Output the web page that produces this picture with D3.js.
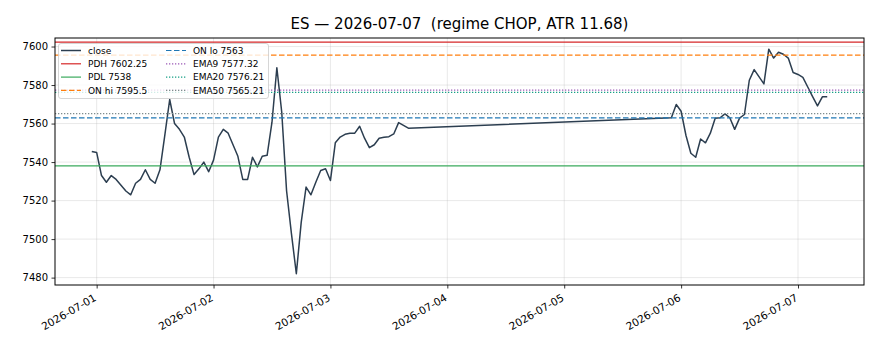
<!DOCTYPE html>
<html>
<head>
<meta charset="utf-8">
<script src="https://cdn.jsdelivr.net/npm/d3@7"></script>
<style>
  body { margin: 0; background: #fff; }
  svg { display: block; font-family: "DejaVu Sans", sans-serif; }
</style>
</head>
<body>
<div id="chart"></div>
<script>
// hourly closes
var times = [
  "2026-06-30T23:00",
  "2026-07-01T00:00","2026-07-01T01:00","2026-07-01T02:00","2026-07-01T03:00","2026-07-01T04:00","2026-07-01T05:00",
  "2026-07-01T06:00","2026-07-01T07:00","2026-07-01T08:00","2026-07-01T09:00","2026-07-01T10:00","2026-07-01T11:00",
  "2026-07-01T12:00","2026-07-01T13:00","2026-07-01T14:00","2026-07-01T15:00","2026-07-01T16:00","2026-07-01T17:00",
  "2026-07-01T18:00","2026-07-01T19:00","2026-07-01T20:00","2026-07-01T21:00","2026-07-01T22:00","2026-07-01T23:00",
  "2026-07-02T00:00","2026-07-02T01:00","2026-07-02T02:00","2026-07-02T03:00","2026-07-02T04:00","2026-07-02T05:00",
  "2026-07-02T06:00","2026-07-02T07:00","2026-07-02T08:00","2026-07-02T09:00","2026-07-02T10:00","2026-07-02T11:00",
  "2026-07-02T12:00","2026-07-02T13:00","2026-07-02T14:00","2026-07-02T15:00","2026-07-02T16:00","2026-07-02T17:00",
  "2026-07-02T18:00","2026-07-02T19:00","2026-07-02T20:00","2026-07-02T21:00","2026-07-02T22:00","2026-07-02T23:00",
  "2026-07-03T00:00","2026-07-03T01:00","2026-07-03T02:00","2026-07-03T03:00","2026-07-03T04:00","2026-07-03T05:00",
  "2026-07-03T06:00","2026-07-03T07:00","2026-07-03T08:00","2026-07-03T09:00","2026-07-03T10:00","2026-07-03T11:00",
  "2026-07-03T12:00","2026-07-03T13:00","2026-07-03T14:00","2026-07-03T16:00",
  "2026-07-05T22:00","2026-07-05T23:00",
  "2026-07-06T00:00","2026-07-06T01:00","2026-07-06T02:00","2026-07-06T03:00","2026-07-06T04:00","2026-07-06T05:00",
  "2026-07-06T06:00","2026-07-06T07:00","2026-07-06T08:00","2026-07-06T09:00","2026-07-06T10:00","2026-07-06T11:00",
  "2026-07-06T12:00","2026-07-06T13:00","2026-07-06T14:00","2026-07-06T15:00","2026-07-06T17:00",
  "2026-07-06T18:00","2026-07-06T19:00","2026-07-06T20:00","2026-07-06T21:00","2026-07-06T22:00","2026-07-06T23:00",
  "2026-07-07T00:00","2026-07-07T01:00","2026-07-07T02:00","2026-07-07T03:00","2026-07-07T04:00","2026-07-07T05:00",
  "2026-07-07T06:00"
];
var closes = [
  7545.5,
  7545, 7533, 7529.5, 7533, 7531, 7528,
  7525, 7523, 7529, 7531, 7536, 7531,
  7529, 7536, 7554, 7572.5, 7560, 7557,
  7553, 7542.5, 7533.5, 7536.5, 7540, 7535,
  7541, 7553, 7557, 7555, 7549, 7543,
  7531, 7531, 7542.5, 7537.5, 7543, 7543.5,
  7560.7, 7589, 7566, 7525, 7502.7, 7482,
  7508.7, 7527, 7523, 7529.5, 7535.6, 7536.5,
  7530.4, 7550, 7553, 7554.4, 7555, 7555,
  7558.6, 7552.4, 7547.5, 7549, 7552.4, 7552.9,
  7553.2, 7554.6, 7560.5, 7557.6,
  7563, 7569.9,
  7566.4, 7553.8, 7544.6, 7542.5, 7552, 7550,
  7555, 7562.8, 7563, 7565, 7563, 7557,
  7562.8, 7564.7, 7582.5, 7588, 7580.6,
  7598.6, 7594, 7597, 7596, 7594, 7586.5,
  7585.5, 7584, 7579, 7574, 7569.2, 7573.9,
  7573.9
];

var levelNames  = ["PDH", "PDL", "ON hi", "ON lo", "EMA9", "EMA20", "EMA50"];
var levelValues = [7602.25, 7538, 7595.5, 7563, 7577.32, 7576.21, 7565.21];

var yTicks = [7480, 7500, 7520, 7540, 7560, 7580, 7600];
var xTicks = ["2026-07-01","2026-07-02","2026-07-03","2026-07-04","2026-07-05","2026-07-06","2026-07-07"];

var title = "ES \u2014 2026-07-07  (regime CHOP, ATR 11.68)";

// styles
var levelColors = ["#d62728", "#3aaa5c", "#ff7f0e", "#1f77b4", "#9b59b6", "#16a085", "#7f8c8d"];
var levelDash   = ["", "", "5.5,2.5", "5.5,2.5", "1.3,1.7", "1.3,1.7", "1.3,1.7"];
var closeColor = "#2c3e50";

var W = 880, H = 352;
var padL = 55, padR = 864, padT = 38, padB = 285;

var parse = d3.utcParse("%Y-%m-%dT%H:%M");
var parseDay = d3.utcParse("%Y-%m-%d");
var pts = times.map(function(t, i){ return {t: parse(t), v: closes[i]}; });

// matplotlib style 5% margins
var t0 = pts[0].t, t1 = pts[pts.length-1].t;
var span = t1 - t0;
var vmin = d3.min(closes), vmax = d3.max(closes);
var vspan = vmax - vmin;

var x = d3.scaleUtc()
  .domain([new Date(+t0 - span*0.05), new Date(+t1 + span*0.05)])
  .range([padL, padR]);
var y = d3.scaleLinear()
  .domain([vmin - vspan*0.05, vmax + vspan*0.05])
  .range([padB, padT]);

var svg = d3.select('#chart').append('svg')
  .attr('width', W).attr('height', H);

svg.append('defs').append('clipPath').attr('id','clip')
  .append('rect').attr('x', padL).attr('y', padT)
  .attr('width', padR-padL).attr('height', padB-padT);

// grid
var grid = svg.append('g').attr('stroke', '#b0b0b0').attr('stroke-opacity', 0.35).attr('stroke-width', 0.8);
grid.selectAll('line.gy').data(yTicks).enter().append('line')
  .attr('x1', padL).attr('x2', padR)
  .attr('y1', function(d){ return y(d); }).attr('y2', function(d){ return y(d); });
grid.selectAll('line.gx').data(xTicks).enter().append('line')
  .attr('y1', padT).attr('y2', padB)
  .attr('x1', function(d){ return x(parseDay(d)); }).attr('x2', function(d){ return x(parseDay(d)); });

var plot = svg.append('g').attr('clip-path', 'url(#clip)');

var line = d3.line()
  .x(function(d){ return x(d.t); })
  .y(function(d){ return y(d.v); });

plot.append('path').datum(pts)
  .attr('d', line)
  .attr('fill', 'none')
  .attr('stroke', closeColor)
  .attr('stroke-width', 1.5)
  .attr('stroke-linejoin', 'round');

plot.selectAll('line.level').data(levelValues).enter().append('line')
  .attr('x1', padL).attr('x2', padR)
  .attr('y1', function(d){ return y(d); }).attr('y2', function(d){ return y(d); })
  .attr('stroke', function(d,i){ return levelColors[i]; })
  .attr('stroke-width', 1.2)
  .attr('stroke-dasharray', function(d,i){ return levelDash[i] || null; });

// axes
var yAxis = d3.axisLeft(y).tickValues(yTicks).tickSize(3.5).tickPadding(3.5).tickFormat(d3.format('d'));
var gy = svg.append('g').attr('transform', 'translate(' + padL + ',0)').call(yAxis);
gy.select('.domain').remove();
gy.selectAll('text').attr('font-size', 10).attr('fill', '#000').attr('font-family', '"DejaVu Sans", sans-serif');
gy.selectAll('line').attr('stroke', '#000').attr('stroke-width', 0.8);

var xAxis = d3.axisBottom(x).tickValues(xTicks.map(parseDay)).tickSize(3.5).tickFormat(d3.utcFormat('%Y-%m-%d'));
var gx = svg.append('g').attr('transform', 'translate(0,' + padB + ')').call(xAxis);
gx.select('.domain').remove();
gx.selectAll('line').attr('stroke', '#000').attr('stroke-width', 0.8);
gx.selectAll('text')
  .attr('font-size', 10.5).attr('fill', '#000').attr('font-family', '"DejaVu Sans", sans-serif')
  .attr('text-anchor', 'end')
  .attr('x', null).attr('y', null).attr('dy', null)
  .attr('transform', 'translate(0,15) rotate(-30)');

// frame
svg.append('rect')
  .attr('x', padL).attr('y', padT)
  .attr('width', padR-padL).attr('height', padB-padT)
  .attr('fill', 'none').attr('stroke', '#000').attr('stroke-width', 1);

// title
svg.append('text')
  .attr('x', (padL+padR)/2).attr('y', 29)
  .attr('text-anchor', 'middle')
  .attr('font-size', 15)
  .attr('xml:space', 'preserve')
  .style('white-space', 'pre')
  .text(title);

// legend, two columns filled column-wise
var legendItems = [{label: 'close', color: closeColor, dash: '', w: 1.5}].concat(
  levelNames.map(function(n, i){
    return {label: n + ' ' + levelValues[i], color: levelColors[i], dash: levelDash[i], w: 1.2};
  }));

var lg = svg.append('g');
lg.append('rect')
  .attr('x', 58.5).attr('y', 43.5).attr('width', 210).attr('height', 55)
  .attr('rx', 2.5)
  .attr('fill', '#fff').attr('fill-opacity', 0.8)
  .attr('stroke', '#cccccc').attr('stroke-width', 0.8);

var li = lg.selectAll('g.item').data(legendItems).enter().append('g')
  .attr('transform', function(d, i){
    var col = Math.floor(i/4), row = i % 4;
    return 'translate(' + (61 + col*105) + ',' + (50.5 + row*13.3) + ')';
  });
li.append('line')
  .attr('x1', 0).attr('x2', 20).attr('y1', 0).attr('y2', 0)
  .attr('stroke', function(d){ return d.color; })
  .attr('stroke-width', function(d){ return d.w; })
  .attr('stroke-dasharray', function(d){ return d.dash || null; });
li.append('text')
  .attr('x', 27).attr('y', 3.2)
  .attr('font-size', 9)
  .text(function(d){ return d.label; });
</script>
</body>
</html>
